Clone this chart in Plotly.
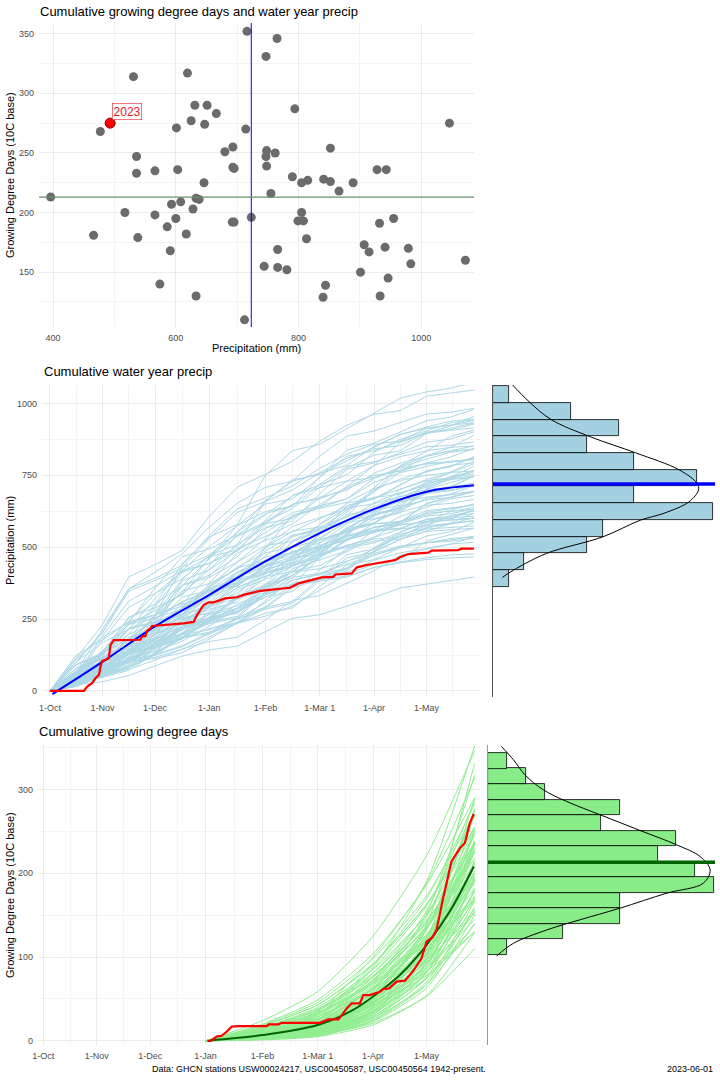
import plotly.graph_objects as go

# ---- scatter: water year precip vs growing degree days (one point per year) ----
precip_total = [716, 765, 747, 531, 619, 794, 631, 651, 666, 625, 647, 601, 714, 477,
                1046, 536, 693, 680, 748, 747, 762, 852, 693, 695, 748, 536, 566, 603,
                928, 943, 790, 805, 815, 841, 852, 889, 866, 755, 646, 396, 633, 638,
                608, 593, 628, 517, 566, 600, 723, 692, 695, 799, 808, 805, 932, 955,
                586, 466, 617, 538, 813, 907, 915, 941, 979, 591, 766, 1072, 983, 744,
                766, 781, 901, 946, 574, 844, 633, 840, 933, 712]
gdd_total = [352, 346, 331, 314, 317, 287, 290, 290, 283, 277, 274, 271, 270, 268,
             275, 247, 255, 251, 252, 247, 250, 254, 238, 237, 239, 233, 235, 236,
             236, 236, 230, 225, 227, 228, 226, 225, 218, 216, 225, 213, 212, 211,
             209, 207, 203, 200, 198, 195, 196, 192, 192, 193, 193, 200, 191, 195,
             188, 181, 182, 179, 178, 173, 167, 171, 170, 168, 169, 160, 157, 155,
             154, 152, 150, 145, 140, 139, 130, 129, 130, 110]
precip_2023 = 493
gdd_2023 = 275
precip_mean = 723
gdd_mean = 213

# ---- cumulative precip per year at the first of Nov..May (mm) ----
precip_monthly = [
    [100, 222, 337, 451, 544, 630, 687], [168, 321, 444, 551, 635, 704, 750],
    [60, 164, 269, 388, 500, 613, 702], [64, 149, 266, 372, 425, 478, 515],
    [62, 124, 198, 285, 384, 483, 569], [111, 246, 373, 500, 603, 699, 762],
    [139, 265, 366, 454, 524, 581, 618], [52, 143, 234, 339, 436, 534, 612],
    [80, 186, 333, 466, 533, 599, 646], [63, 125, 200, 288, 388, 488, 575],
    [91, 201, 304, 408, 492, 569, 621], [132, 252, 349, 433, 499, 553, 589],
    [57, 157, 257, 371, 478, 585, 671], [57, 134, 239, 334, 382, 429, 463],
    [230, 439, 607, 753, 868, 962, 1025], [54, 107, 172, 247, 332, 418, 493],
    [97, 215, 326, 437, 527, 610, 665], [54, 150, 245, 354, 456, 558, 639],
    [90, 209, 374, 524, 598, 673, 726], [75, 149, 239, 344, 463, 583, 687],
    [107, 236, 358, 480, 579, 671, 732], [187, 358, 494, 613, 707, 784, 835],
    [55, 152, 249, 360, 464, 568, 651], [83, 195, 348, 487, 556, 626, 674],
    [75, 150, 239, 344, 464, 583, 688], [75, 166, 252, 338, 407, 472, 515],
    [125, 238, 328, 408, 470, 521, 555], [48, 133, 217, 314, 404, 494, 567],
    [111, 260, 464, 650, 742, 835, 900], [132, 292, 443, 594, 717, 830, 905],
    [79, 158, 253, 363, 490, 616, 727], [177, 338, 467, 580, 668, 741, 789],
    [65, 179, 293, 424, 546, 668, 766], [101, 235, 421, 589, 673, 757, 816],
    [119, 264, 400, 537, 648, 750, 818], [89, 178, 284, 409, 551, 693, 818],
    [191, 364, 502, 624, 719, 797, 849], [60, 166, 272, 393, 506, 619, 710],
    [78, 181, 323, 452, 517, 581, 627], [32, 87, 143, 206, 265, 325, 372],
    [89, 196, 298, 399, 481, 557, 608], [64, 128, 204, 293, 396, 498, 587],
    [134, 255, 353, 438, 505, 559, 596], [71, 166, 297, 415, 474, 534, 575],
    [50, 138, 226, 327, 421, 515, 590], [72, 160, 243, 326, 393, 455, 496],
    [57, 113, 181, 260, 351, 441, 521], [132, 252, 348, 432, 498, 552, 588],
    [87, 202, 362, 506, 578, 651, 701], [97, 215, 325, 436, 526, 609, 664],
    [56, 153, 250, 361, 466, 570, 653], [80, 160, 256, 368, 495, 623, 735],
    [178, 339, 469, 582, 671, 743, 792], [97, 225, 403, 564, 644, 725, 781],
    [130, 289, 438, 587, 708, 820, 895], [76, 210, 344, 497, 640, 783, 898],
    [59, 117, 188, 270, 363, 457, 539], [103, 196, 270, 336, 387, 429, 457],
    [74, 173, 309, 432, 494, 555, 598], [75, 167, 253, 339, 409, 473, 516],
    [65, 179, 293, 423, 545, 667, 764], [91, 181, 290, 417, 562, 707, 834],
    [201, 384, 531, 659, 759, 842, 897], [113, 263, 471, 659, 753, 847, 913],
    [137, 303, 460, 617, 744, 862, 940], [47, 130, 213, 307, 396, 485, 556],
    [77, 153, 245, 352, 475, 597, 705], [129, 300, 536, 750, 858, 965, 1040],
    [216, 413, 570, 708, 816, 904, 963], [104, 231, 350, 469, 565, 655, 714],
    [61, 169, 276, 398, 513, 628, 720], [78, 156, 250, 359, 484, 609, 719],
    [126, 279, 423, 568, 685, 793, 865], [114, 265, 473, 662, 757, 851, 918],
    [126, 241, 333, 413, 476, 528, 563], [68, 186, 304, 439, 565, 692, 793],
    [63, 127, 203, 291, 392, 494, 582], [118, 260, 395, 529, 638, 739, 806],
    [205, 392, 541, 672, 774, 858, 914], [85, 199, 356, 498, 570, 641, 691],
]

# ---- cumulative precip per year in the middle of each month (Oct 15 .. May 15, May 29) ----
precip_midmonth = [
    [30, 185, 268, 405, 470, 613, 658, 696], [101, 214, 419, 487, 610, 656, 732, 760],
    [30, 143, 196, 352, 433, 568, 631, 724], [45, 98, 219, 287, 414, 451, 504, 521],
    [19, 105, 154, 250, 305, 463, 526, 584], [67, 152, 348, 424, 572, 632, 737, 784],
    [70, 240, 295, 428, 482, 558, 588, 625], [36, 88, 198, 255, 417, 485, 589, 628],
    [24, 154, 245, 413, 479, 586, 622, 652], [38, 82, 185, 235, 358, 418, 540, 610],
    [45, 179, 232, 377, 442, 538, 579, 634], [92, 180, 310, 366, 486, 526, 578, 594],
    [17, 127, 197, 325, 392, 564, 628, 684], [34, 80, 218, 277, 368, 396, 449, 473],
    [115, 397, 489, 709, 799, 924, 975, 1036], [38, 75, 146, 187, 315, 375, 471, 510],
    [29, 180, 259, 393, 455, 593, 638, 673], [32, 83, 226, 289, 425, 487, 607, 668],
    [45, 185, 259, 479, 554, 643, 684, 737], [53, 105, 203, 260, 439, 523, 656, 711],
    [32, 197, 285, 431, 500, 653, 702, 741], [112, 238, 467, 542, 679, 730, 815, 847],
    [28, 133, 181, 327, 402, 526, 585, 672], [58, 128, 287, 376, 542, 591, 660, 682],
    [23, 128, 186, 302, 368, 559, 636, 706], [45, 102, 235, 286, 386, 427, 498, 530],
    [63, 215, 265, 384, 433, 501, 528, 561], [34, 82, 183, 236, 386, 449, 545, 581],
    [33, 215, 342, 576, 668, 816, 868, 908], [79, 180, 413, 503, 680, 751, 875, 932],
    [40, 142, 187, 330, 414, 566, 638, 759], [124, 241, 415, 490, 650, 705, 775, 795],
    [20, 145, 225, 372, 448, 644, 717, 781], [61, 141, 384, 488, 648, 698, 792, 834],
    [60, 235, 305, 496, 581, 709, 764, 835], [62, 125, 242, 309, 523, 622, 781, 846],
    [57, 312, 419, 575, 643, 781, 823, 854], [36, 92, 251, 320, 472, 540, 674, 742],
    [39, 160, 224, 413, 478, 555, 590, 637], [22, 54, 121, 156, 253, 295, 358, 382],
    [27, 164, 237, 359, 415, 542, 583, 616], [38, 83, 189, 240, 365, 427, 551, 623],
    [67, 231, 284, 413, 465, 537, 566, 602], [50, 109, 245, 321, 462, 504, 563, 582],
    [15, 112, 173, 287, 346, 496, 553, 601], [43, 98, 226, 276, 373, 412, 480, 511],
    [29, 102, 133, 236, 296, 405, 457, 544], [92, 180, 310, 365, 485, 525, 577, 593],
    [26, 168, 266, 448, 520, 636, 676, 708], [58, 132, 303, 369, 499, 551, 642, 684],
    [28, 134, 182, 328, 403, 528, 587, 674], [56, 112, 218, 278, 470, 559, 701, 761],
    [53, 291, 391, 537, 600, 729, 768, 797], [58, 135, 367, 467, 620, 668, 759, 798],
    [65, 257, 334, 542, 635, 775, 835, 914], [53, 130, 290, 375, 611, 712, 864, 921],
    [18, 100, 145, 237, 289, 438, 498, 553], [62, 131, 255, 296, 372, 400, 446, 463],
    [37, 153, 214, 395, 457, 531, 564, 608], [53, 112, 219, 270, 395, 441, 503, 525],
    [20, 145, 225, 371, 447, 643, 716, 779], [55, 118, 268, 341, 519, 606, 783, 885],
    [101, 347, 428, 621, 699, 809, 853, 906], [79, 173, 388, 509, 734, 800, 893, 924],
    [41, 253, 366, 554, 642, 838, 901, 952], [28, 72, 196, 251, 369, 423, 528, 581],
    [39, 138, 181, 320, 401, 548, 619, 736], [90, 197, 442, 579, 836, 912, 1018, 1053],
    [65, 354, 476, 653, 730, 886, 934, 969], [62, 142, 326, 398, 536, 592, 690, 735],
    [31, 147, 201, 361, 444, 582, 646, 743], [55, 109, 212, 272, 459, 546, 686, 744],
    [38, 233, 337, 510, 591, 771, 829, 876], [68, 159, 431, 549, 729, 785, 891, 938],
    [63, 218, 269, 389, 438, 507, 535, 569], [48, 115, 257, 331, 540, 629, 763, 813],
    [19, 108, 157, 256, 311, 474, 538, 597], [71, 161, 368, 449, 605, 668, 779, 830],
    [103, 355, 437, 633, 713, 824, 869, 924], [60, 131, 293, 384, 556, 606, 676, 699],
]

# ---- cumulative GDD per year at the first of Feb..May ----
gdd_monthly = [
    [11, 32, 88, 190], [24, 59, 125, 221], [3, 13, 50, 139], [13, 35, 100, 188],
    [6, 19, 60, 152], [9, 26, 72, 155], [20, 49, 104, 186], [3, 12, 44, 122],
    [11, 31, 91, 170], [6, 17, 53, 133], [8, 25, 69, 148], [19, 46, 98, 173],
    [3, 11, 41, 113], [11, 29, 86, 161], [6, 17, 52, 132], [7, 22, 62, 133],
    [18, 43, 92, 163], [3, 10, 38, 105], [10, 28, 81, 151], [5, 15, 47, 119],
    [8, 23, 63, 135], [18, 43, 91, 163], [2, 10, 36, 100], [9, 26, 76, 142],
    [5, 14, 45, 115], [7, 21, 58, 126], [16, 40, 85, 150], [2, 9, 35, 99],
    [9, 26, 76, 142], [5, 14, 45, 113], [7, 21, 58, 124], [16, 38, 81, 144],
    [2, 9, 34, 95], [9, 25, 73, 137], [5, 14, 43, 108], [7, 20, 56, 122],
    [15, 37, 78, 140], [2, 9, 32, 91], [9, 25, 72, 135], [4, 13, 40, 102],
    [6, 19, 53, 114], [15, 36, 76, 135], [2, 8, 31, 88], [8, 23, 66, 124],
    [4, 12, 39, 97], [6, 18, 50, 108], [14, 34, 71, 127], [2, 8, 29, 82],
    [8, 22, 63, 118], [4, 12, 36, 92], [6, 17, 48, 104], [14, 33, 69, 124],
    [2, 8, 29, 81], [8, 22, 64, 120], [4, 11, 36, 92], [6, 18, 49, 105],
    [13, 32, 68, 120], [2, 7, 27, 76], [7, 20, 58, 109], [4, 11, 34, 86],
    [5, 16, 45, 96], [12, 29, 62, 111], [2, 7, 25, 70], [7, 19, 55, 103],
    [3, 10, 32, 82], [5, 15, 42, 91], [12, 29, 61, 108], [2, 6, 24, 67],
    [6, 17, 50, 94], [3, 9, 29, 74], [5, 14, 39, 83], [11, 26, 55, 97],
    [2, 6, 23, 63], [6, 16, 46, 87], [3, 8, 27, 67], [4, 13, 35, 75],
    [9, 22, 47, 83], [1, 5, 19, 54], [5, 14, 42, 78], [2, 7, 21, 53],
]

# day of water year for 1-Oct .. 1-May, and the last day of data
month_days = [0, 30, 60, 91, 123, 154, 185, 215]
mid_days = [15, 45, 75.5, 107, 138.5, 169.5, 200, 228.5]
month_labels = ["1-Oct", "1-Nov", "1-Dec", "1-Jan", "1-Feb", "1-Mar 1", "1-Apr", "1-May"]
minor_days = [15, 45, 75.5, 107, 138.5, 169.5, 200, 230]
last_day = 242

# ---- 2023 and long-term mean curves ----
red_precip_day = [0, 19.4, 21.3, 24.1, 26, 28, 28.9, 29.8, 31.7, 33.6, 34.6, 36.5, 51.7,
                  52.6, 54.5, 55.5, 57.4, 58.3, 76.4, 82, 84, 85.9, 87.7, 90.6, 93.5,
                  97.3, 100, 106.8, 110.5, 120, 123.9, 137, 141.9, 149.5, 155.2, 161.8,
                  163, 172.3, 175.2, 180.9, 188.4, 197, 199.8, 204.6, 216, 217.9, 233,
                  235, 242]
red_precip_mm = [0, 0, 15, 27, 44, 56, 85, 104, 108, 114, 160, 177, 178, 191, 191, 210,
                 218, 226, 235, 240, 264, 282, 299, 308, 308, 316, 322, 326, 334, 348,
                 351, 359, 374, 386, 395, 397, 405, 409, 430, 438, 446, 455, 465, 476,
                 481, 488, 490, 495, 495]
mean_precip_day = [1.4, 30.2, 59.5, 91, 123, 153.8, 185.2, 215, 242]
mean_precip_mm = [-11, 102, 223, 334, 451, 548, 633, 693, 715]

red_gdd_day = [92, 94, 97.2, 100, 102.9, 105.7, 110, 125.3, 126.5, 131.8, 133.7, 155.2,
               159.9, 165.5, 167.5, 170.2, 173, 177.6, 179.5, 183.2, 188.8, 190.7, 194,
               198.2, 202.9, 207.5, 212.2, 215, 218.4, 220.6, 224.3, 229, 233.7, 236.5,
               239.3, 241.5]
red_gdd_val = [0, 0, 5, 6, 11, 17, 17.5, 17.5, 19.5, 19.5, 21.5, 21.5, 25.5, 25.5, 30.7,
               38.7, 44.7, 44.7, 54.6, 54.6, 58.6, 61.8, 62.6, 70.6, 71.8, 83.4, 98.5,
               118.4, 123.6, 132.4, 170.2, 214, 230, 236, 259.8, 270.6]
mean_gdd_day = [93.5, 122.8, 153.9, 172, 184.9, 200, 215, 228, 241.5]
mean_gdd_val = [0.8, 6.8, 18.8, 34.7, 52.6, 78.5, 114.3, 154.2, 208]

# ---- histograms (bin centres bottom to top, counts) and fitted curves ----
precip_bin_mid = [391.7, 449.8, 507.9, 566.0, 624.1, 682.2, 740.3, 798.4, 856.5, 914.6,
                  972.7, 1030.8]
precip_bin_count = [1, 2, 6, 7, 14, 9, 13, 9, 6, 8, 5, 1]
precip_bin_width = 58.1
precip_curve_mm = [395, 420, 478, 536, 594, 618, 658, 699, 722, 768, 828, 884, 944, 1006, 1067]
precip_curve_n = [0.6, 1.3, 3.4, 7.0, 9.4, 10.9, 12.5, 13.1, 13.0, 11.9, 9.1, 6.2, 3.7, 2.3, 1.2]

gdd_bin_mid = [111.7, 130.2, 148.8, 167.3, 185.9, 204.4, 222.9, 241.5, 260.0, 278.6,
               297.1, 315.7, 334.2]
gdd_bin_count = [1, 4, 7, 7, 12, 11, 9, 10, 6, 7, 3, 2, 1]
gdd_bin_width = 18.54
gdd_curve_val = [101.3, 116.4, 132.3, 144.4, 158.3, 176.2, 188.1, 204, 219.9, 233.8, 251,
                 269.3, 285.6, 299.5, 317.4, 335.4, 351.3]
gdd_curve_n = [0.46, 1.35, 3.12, 4.88, 7.01, 9.49, 11.43, 11.79, 11.26, 10.02, 8.07, 6.0,
               4.18, 2.94, 1.96, 1.35, 0.71]

W, H = 720, 1080
GRID = "#EBEBEB"
MINOR = "#F4F4F4"
TICK_FONT = dict(size=9, color="#4D4D4D")


def xdom(a, b):
    return [a / W, b / W]


def ydom(top, bottom):
    return [1 - bottom / H, 1 - top / H]


def axis(domain, rng, tickvals, ticktext=None, minor=None, anchor=None):
    d = dict(domain=domain, range=rng, tickmode="array", tickvals=tickvals,
             showgrid=True, gridcolor=GRID, gridwidth=1, zeroline=False,
             showline=False, ticks="", tickfont=TICK_FONT, ticklabelstandoff=4,
             anchor=anchor, automargin=False)
    if ticktext is not None:
        d["ticktext"] = ticktext
    if minor is not None:
        d["minor"] = dict(tickvals=minor, showgrid=True, gridcolor=MINOR, gridwidth=0.8)
    return d


fig = go.Figure()

# top scatter
fig.add_trace(go.Scatter(x=precip_total, y=gdd_total, mode="markers",
                         marker=dict(color="#6B6B6B", size=9), xaxis="x", yaxis="y"))
fig.add_trace(go.Scatter(x=[precip_2023], y=[gdd_2023], mode="markers",
                         marker=dict(color="#FF0000", size=10,
                                     line=dict(color="#8B0000", width=1)),
                         xaxis="x", yaxis="y"))

# middle: cumulative precip spaghetti (first of month and mid-month values interleaved)
px_, py_ = [], []
for total, row, mids in zip(precip_total, precip_monthly, precip_midmonth):
    starts = [0] + row
    for d0, v0, dm, vm in zip(month_days, starts, mid_days, mids):
        px_ += [d0, dm]
        py_ += [v0, vm]
    px_ += [last_day, None]
    py_ += [total, None]
fig.add_trace(go.Scatter(x=px_, y=py_, mode="lines", line=dict(color="#ADD8E6", width=1),
                         xaxis="x2", yaxis="y2"))
fig.add_trace(go.Scatter(x=mean_precip_day, y=mean_precip_mm, mode="lines",
                         line=dict(color="#0000FF", width=2, shape="spline"),
                         xaxis="x2", yaxis="y2"))
fig.add_trace(go.Scatter(x=red_precip_day, y=red_precip_mm, mode="lines",
                         line=dict(color="#FF0000", width=2.2), xaxis="x2", yaxis="y2"))

# middle histogram
fig.add_trace(go.Bar(y=precip_bin_mid, x=precip_bin_count, orientation="h",
                     width=precip_bin_width,
                     marker=dict(color="#A3D1E2", line=dict(color="black", width=0.8)),
                     xaxis="x3", yaxis="y3"))
fig.add_trace(go.Scatter(x=precip_curve_n, y=precip_curve_mm, mode="lines",
                         line=dict(color="black", width=1, shape="spline"),
                         xaxis="x3", yaxis="y3"))

# bottom: cumulative GDD spaghetti
gx, gy = [], []
for total, row in zip(gdd_total, gdd_monthly):
    gx += month_days[3:] + [last_day, None]
    gy += [0] + row + [total, None]
fig.add_trace(go.Scatter(x=gx, y=gy, mode="lines",
                         line=dict(color="#90EE90", width=1, shape="spline", smoothing=0.6),
                         xaxis="x4", yaxis="y4"))
fig.add_trace(go.Scatter(x=mean_gdd_day, y=mean_gdd_val, mode="lines",
                         line=dict(color="#006400", width=2, shape="spline"),
                         xaxis="x4", yaxis="y4"))
fig.add_trace(go.Scatter(x=red_gdd_day, y=red_gdd_val, mode="lines",
                         line=dict(color="#FF0000", width=2.2), xaxis="x4", yaxis="y4"))

# bottom histogram
fig.add_trace(go.Bar(y=gdd_bin_mid, x=gdd_bin_count, orientation="h", width=gdd_bin_width,
                     marker=dict(color="#88EC88", line=dict(color="black", width=0.8)),
                     xaxis="x5", yaxis="y5"))
fig.add_trace(go.Scatter(x=gdd_curve_n, y=gdd_curve_val, mode="lines",
                         line=dict(color="black", width=1, shape="spline"),
                         xaxis="x5", yaxis="y5"))

mid_y = [-21, 1064]
bot_y = [-5, 353]
hidden = dict(showgrid=False, zeroline=False, showticklabels=False, ticks="",
              automargin=False)

fig.update_layout(
    width=W, height=H, margin=dict(l=0, r=0, t=0, b=0, autoexpand=False),
    paper_bgcolor="white", plot_bgcolor="white", showlegend=False, bargap=0,
    hovermode=False,
    font=dict(family="Liberation Sans, Arial, sans-serif", color="black"),
    xaxis=axis(xdom(39, 474), [377, 1086], [400, 600, 800, 1000],
               minor=[500, 700, 900], anchor="y"),
    yaxis=axis(ydom(23, 327), [104, 359], [150, 200, 250, 300, 350],
               minor=[125, 175, 225, 275, 325], anchor="x"),
    xaxis2=axis(xdom(42, 480), [-4.5, 245.5], month_days, month_labels,
                minor=minor_days, anchor="y2"),
    yaxis2=axis(ydom(385, 697), mid_y, [0, 250, 500, 750, 1000],
                minor=[125, 375, 625, 875], anchor="x2"),
    xaxis3=dict(domain=xdom(493, 715), range=[0, 14.15], anchor="y3", **hidden),
    yaxis3=dict(domain=ydom(385, 697), range=mid_y, anchor="x3", showline=True,
                linecolor="#555555", linewidth=1, **hidden),
    xaxis4=axis(xdom(38, 480), [-3, 245], month_days, month_labels,
                minor=minor_days, anchor="y4"),
    yaxis4=axis(ydom(745, 1045), bot_y, [0, 100, 200, 300],
                minor=[50, 150, 250, 350], anchor="x4"),
    xaxis5=dict(domain=xdom(488, 715), range=[0, 12.05], anchor="y5", **hidden),
    yaxis5=dict(domain=ydom(745, 1045), range=bot_y, anchor="x5", showline=True,
                linecolor="#9A9A9A", linewidth=1, **hidden),
)

# reference lines
fig.add_shape(type="line", xref="x", yref="y domain", x0=precip_mean, x1=precip_mean,
              y0=0, y1=1, line=dict(color="#0000FF", width=1))
fig.add_shape(type="line", xref="x domain", yref="y", x0=0, x1=1, y0=gdd_mean,
              y1=gdd_mean, line=dict(color="#6B8F6B", width=1.3))
fig.add_shape(type="line", xref="x3 domain", yref="y3", x0=0, x1=1, y0=precip_mean - 3,
              y1=precip_mean - 3, line=dict(color="#0000FF", width=3.5))
fig.add_shape(type="line", xref="x5 domain", yref="y5", x0=0, x1=1, y0=gdd_mean,
              y1=gdd_mean, line=dict(color="#006400", width=3.5))

# 2023 label
fig.add_annotation(x=521, y=285, xref="x", yref="y", text="2023", showarrow=False,
                   font=dict(size=12, color="#E0202A"), bgcolor="white",
                   bordercolor="#E0202A", borderwidth=0.6, borderpad=1)


def text(x, y, s, size, anchor="left", angle=0, color="black"):
    fig.add_annotation(x=x / W, y=1 - y / H, xref="paper", yref="paper", text=s,
                       showarrow=False, xanchor=anchor, yanchor="middle",
                       textangle=angle, font=dict(size=size, color=color))


text(38, 11, "Cumulative growing degree days and water year precip", 13)
text(256, 348, "Precipitation (mm)", 11, anchor="center")
text(10, 175, "Growing Degree Days (10C base)", 11, anchor="center", angle=-90)
text(42, 371, "Cumulative water year precip", 13)
text(10, 541, "Precipitation (mm)", 11, anchor="center", angle=-90)
text(37, 731, "Cumulative growing degree days", 13)
text(10, 895, "Growing Degree Days (10C base)", 11, anchor="center", angle=-90)
text(319, 1069, "Data: GHCN stations USW00024217, USC00450587, USC00450564 1942-present.",
     9, anchor="center")
text(715, 1069, "2023-06-01", 9, anchor="right")

fig.write_html("out.html", config={"displayModeBar": False},
               post_script="document.body.style.margin='0';"
                           "document.body.style.overflow='hidden';")
